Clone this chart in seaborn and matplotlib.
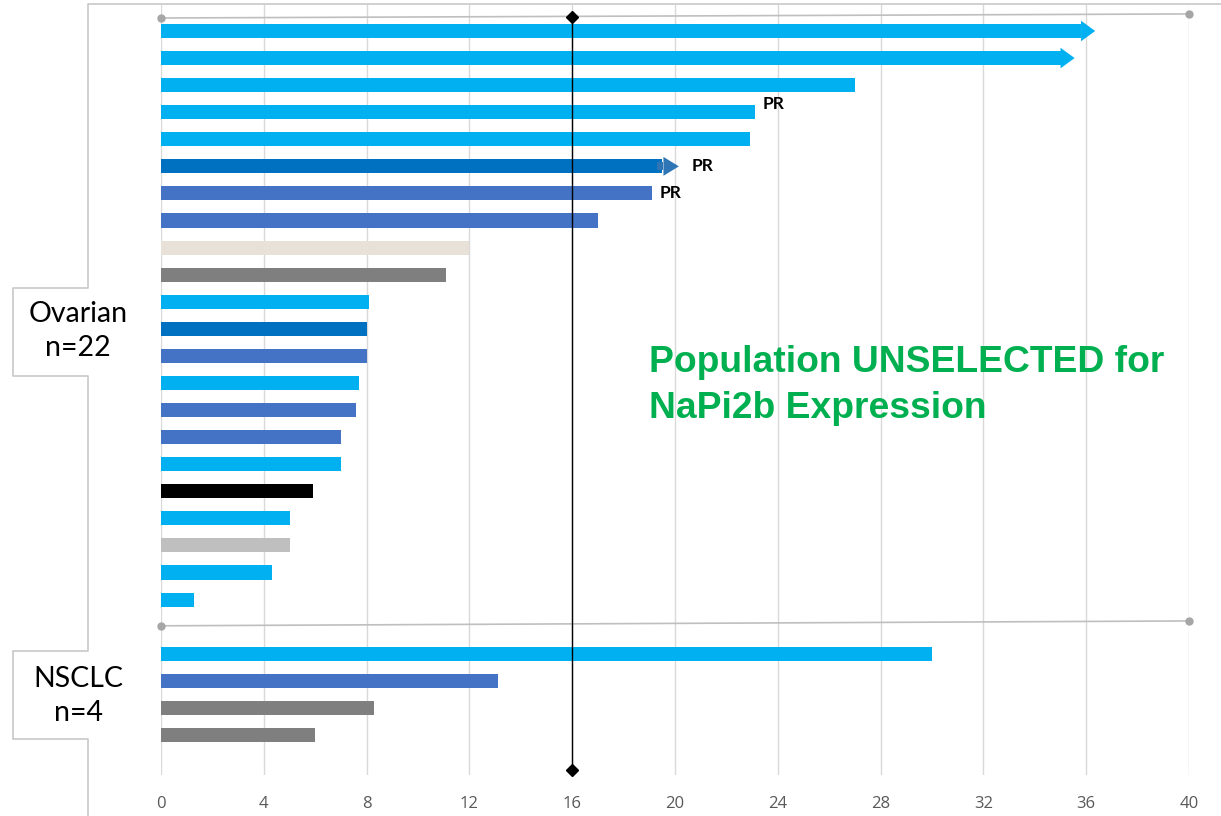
import matplotlib
matplotlib.use("Agg")
import matplotlib.pyplot as plt
from matplotlib.lines import Line2D
import seaborn as sns
import pandas as pd

# ---------------- data ----------------
ovarian_values = [35.8, 35.0, 27.0, 23.1, 22.9, 19.5, 19.1, 17.0, 12.0, 11.1,
                  8.1, 8.0, 8.0, 7.7, 7.6, 7.0, 7.0, 5.9, 5.0, 5.0, 4.3, 1.3]
ovarian_colors = ["#00B0F0", "#00B0F0", "#00B0F0", "#00B0F0", "#00B0F0",
                  "#0070C0", "#4472C4", "#4472C4", "#E8E1D8", "#7F7F7F",
                  "#00B0F0", "#0070C0", "#4472C4", "#00B0F0", "#4472C4",
                  "#4472C4", "#00B0F0", "#000000", "#00B0F0", "#BFBFBF",
                  "#00B0F0", "#00B0F0"]
nsclc_values = [30.0, 13.1, 8.3, 6.0]
nsclc_colors = ["#00B0F0", "#4472C4", "#7F7F7F", "#7F7F7F"]
arrow_rows = [0, 1, 5]          # ongoing patients (arrow heads)
pr_rows = [3, 5, 6]             # partial responses
median_line = 16
x_ticks = [0, 4, 8, 12, 16, 20, 24, 28, 32, 36, 40]
group_labels = ["Ovarian\nn=22", "NSCLC\nn=4"]
annotation = "Population UNSELECTED for\nNaPi2b Expression"

# ---------------- build table ----------------
gap = 1
positions = list(range(len(ovarian_values))) + \
    [len(ovarian_values) + gap + i for i in range(len(nsclc_values))]
values = ovarian_values + nsclc_values
colors = ovarian_colors + nsclc_colors
df = pd.DataFrame({"pos": positions, "value": values, "color": colors})
palette = dict(zip(df["pos"], df["color"]))

W, H = 1221, 816
fig = plt.figure(figsize=(W / 100, H / 100), dpi=100)
sns.set_style("white")
plt.rcParams["font.family"] = ["Lato", "DejaVu Sans"]

left_px, right_px, top_px, bot_px = 161, 1189, 5, 775
ax = fig.add_axes([left_px / W, 1 - bot_px / H, (right_px - left_px) / W, (bot_px - top_px) / H])

sns.barplot(data=df, x="value", y="pos", hue="pos", palette=palette, orient="h",
            native_scale=True, saturation=1, width=0.52, legend=False, ax=ax,
            linewidth=0, zorder=3)

ax.set_xlim(0, 40)
ax.set_ylim(positions[-1] + 1.48, -0.96)

# gridlines
ax.set_xticks(x_ticks)
ax.xaxis.grid(True, color="#D9D9D9", linewidth=1)
ax.yaxis.grid(False)
ax.set_axisbelow(True)
ax.set_yticks([])
ax.set_ylabel("")
ax.set_xlabel("")
for s in ax.spines.values():
    s.set_visible(False)
ax.tick_params(axis="x", length=0, pad=15, labelsize=12, labelcolor="#595959")
for t in ax.get_xticklabels():
    t.set_fontfamily(["Open Sans", "DejaVu Sans"])

# arrow heads
head_len = 0.55
for r in arrow_rows:
    v = values[r]
    col = colors[r]
    if r == 5:
        col = "#2E75B6"
        ax.fill([v - 0.2, v + 0.05, v + 0.05, v - 0.2], [r - 0.15, r - 0.15, r + 0.15, r + 0.15],
                color=col, zorder=4, lw=0)
        ax.fill([v + 0.05, v + 0.05, v + 0.05 + head_len + 0.05], [r - 0.35, r + 0.35, r],
                color=col, zorder=4, lw=0)
    else:
        ax.fill([v, v, v + head_len], [r - 0.38, r + 0.38, r], color=col, zorder=4, lw=0)

# PR labels
for r in pr_rows:
    v = values[r] + (1.15 if r in arrow_rows else 0.3)
    ax.text(v, r - 0.3 if r == 3 else r, "PR", fontsize=12.5, fontweight="bold",
            va="center", ha="left", color="black", zorder=5)

# median line with diamond ends
ax.plot([median_line, median_line], [-0.52, positions[-1] + 1.3], color="black", lw=1,
        marker="D", markersize=6, clip_on=False, zorder=6)

# group separators
sep_rows = [(-0.48, -0.63), (len(ovarian_values) - 0.03, len(ovarian_values) - 0.21)]
for y0, y1 in sep_rows:
    ax.plot([0, 40], [y0, y1], color="#BFBFBF", lw=1.2, marker="o", markersize=5,
            markerfacecolor="#A6A6A6", markeredgecolor="#A6A6A6", clip_on=False, zorder=2)

# annotation
ax.text(19.0, 13.1, annotation, fontsize=26.8, fontweight="bold", color="#00B050",
        family=["Liberation Sans", "DejaVu Sans"], va="center", ha="left", linespacing=1.42)

# left frame with group boxes
fx = lambda px: px / W
fy = lambda py: 1 - py / H
frame_x = [1221, 88, 88, 13, 13, 88, 88, 13, 13, 88, 88]
frame_y = [4, 4, 288, 288, 376, 376, 651, 651, 739, 739, 816]
fig.add_artist(Line2D([fx(v) for v in frame_x], [fy(v) for v in frame_y],
                      color="#C8C8C8", lw=1.2))
fig.text(fx(78), fy(331), group_labels[0], ha="center", va="center", fontsize=20.5,
         linespacing=1.4, color="black")
fig.text(fx(78), fy(696), group_labels[1], ha="center", va="center", fontsize=20.5,
         linespacing=1.4, color="black")

fig.savefig("out.png", dpi=100)
